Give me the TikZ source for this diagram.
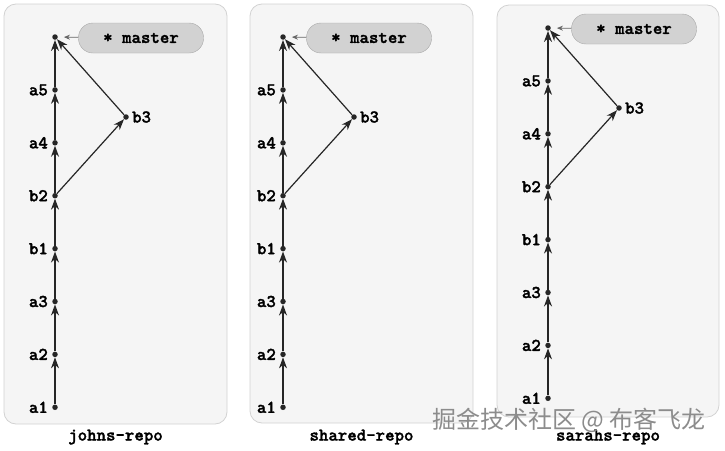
\documentclass[tikz,border=0pt]{standalone}
\usepackage{fontspec}
\newfontfamily\codefont{lmmonolt10-bold.otf}[FakeBold=1.6]
\newfontfamily\cjk{Noto Sans CJK SC}
\usetikzlibrary{arrows.meta}

\definecolor{panelfill}{HTML}{F5F5F5}
\definecolor{paneldraw}{HTML}{D2D2D2}
\definecolor{pillfill}{HTML}{D2D2D2}
\definecolor{pilldraw}{HTML}{A8A8A8}

\tikzset{
  commit/.style={circle,fill=black!85,inner sep=0pt,minimum size=5.5pt},
  code/.style={font=\codefont\fontsize{18}{18}\selectfont},
  tagleft/.style={label={[code,inner sep=1pt,label distance=3pt]left:#1}},
  tagright/.style={label={[code,inner sep=1pt,label distance=2pt]right:#1}},
  panel/.style={draw=paneldraw,fill=panelfill,rounded corners=12pt,line width=0.8pt},
  pill/.style={code,draw=pilldraw,fill=pillfill,rounded corners=14.5pt,
    minimum width=125pt,minimum height=30pt,inner sep=0pt},
  parent/.style={-{Stealth[length=11pt,width=8pt,inset=3.5pt]},line width=1.2pt,black!85},
  pointer/.style={-{Stealth[length=6pt,width=5pt]},line width=0.7pt,black!60,shorten >=6pt}
}

\begin{document}
\begin{tikzpicture}[x=1pt,y=-1pt]
  \useasboundingbox (0,0) rectangle (725,450);

  % one repository per panel: name / column x / top y / box
  \foreach \r/\x/\y/\bl/\bt/\br/\bb in
    {johns/55/37/4/4/227/424, shared/283/37/250/4/473/423, sarahs/548/28/497/5/719/417}
  {
    \draw[panel] (\bl,\bt) rectangle (\br,\bb);
    \node[code] (\r-name) at ({(\bl+\br)/2},437) {\r-repo};

    % commits
    \node[commit] (\r-m) at (\x,\y) {};
    \foreach \c [count=\k] in {a5,a4,b2,b1,a3,a2,a1}
      \node[commit,tagleft=\c] (\r-\c) at (\x,\y+52.9*\k) {};
    \node[commit,tagright=b3] (\r-b3) at (\x+71,\y+80) {};

    % history
    \foreach \u/\v in {a1/a2,a2/a3,a3/b1,b1/b2,b2/a4,a4/a5,a5/m,b2/b3,b3/m}
      \draw[parent] (\r-\u) -- (\r-\v);

    % branch
    \node[pill] (\r-master) at (\x+86,\y+1) {* master};
    \draw[pointer] (\r-master) -- (\r-m);
  }

  \node[font=\cjk\fontsize{24}{24}\selectfont,text=black!45] (mark) at (569,420)
    {掘金技术社区 @ 布客飞龙};
\end{tikzpicture}
\end{document}
